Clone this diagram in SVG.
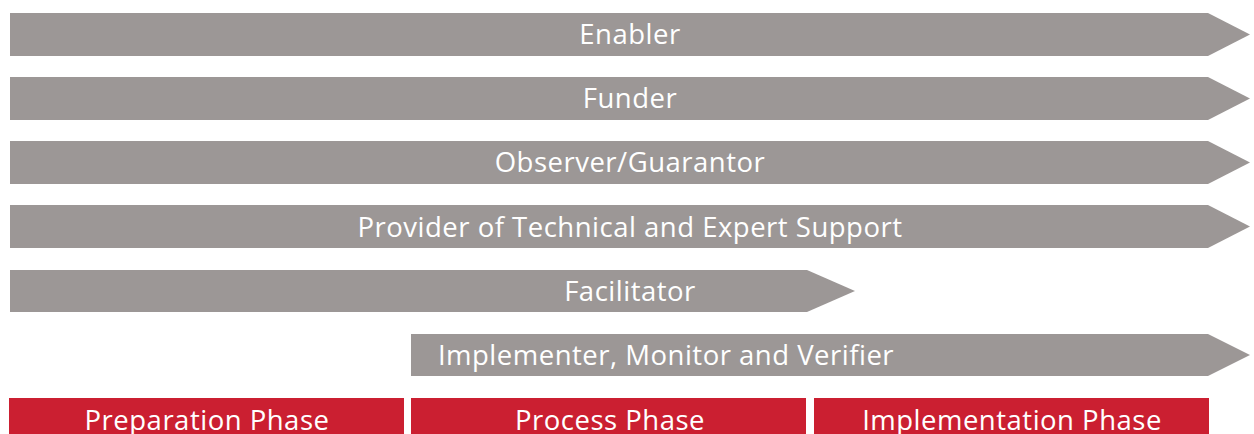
<svg xmlns="http://www.w3.org/2000/svg" width="1254" height="434" viewBox="0 0 1254 434">
<style>
.arr{fill:#9c9796}
.bar{fill:#cb1f31}
.t{font-family:"Open Sans","Liberation Sans",sans-serif;font-size:27.5px;fill:#ffffff;text-anchor:middle;letter-spacing:0.5px}
</style>
<rect width="1254" height="434" fill="#ffffff"/>
<g id="enabler"><polygon class="arr" points="10,13 1208,13 1250,34.5 1208,56 10,56"/><text class="t" x="630" y="44">Enabler</text></g>
<g id="funder"><polygon class="arr" points="10,77 1208,77 1250,98.5 1208,120 10,120"/><text class="t" x="630" y="108">Funder</text></g>
<g id="observer"><polygon class="arr" points="10,141 1208,141 1250,162.5 1208,184 10,184"/><text class="t" x="630" y="172">Observer/Guarantor</text></g>
<g id="provider"><polygon class="arr" points="10,205 1208,205 1250,226.5 1208,248 10,248"/><text class="t" x="630" y="237">Provider of Technical and Expert Support</text></g>
<g id="facilitator"><polygon class="arr" points="10,270 807,270 855,291 807,312 10,312"/><text class="t" x="630" y="301">Facilitator</text></g>
<g id="implementer"><polygon class="arr" points="411,334 1208,334 1250,355 1208,376 411,376"/><text class="t" x="666" y="365">Implementer, Monitor and Verifier</text></g>
<g id="preparation"><rect class="bar" x="9" y="398" width="395" height="40"/><text class="t" x="207" y="430">Preparation Phase</text></g>
<g id="process"><rect class="bar" x="411" y="398" width="395" height="40"/><text class="t" x="610" y="430">Process Phase</text></g>
<g id="implementation"><rect class="bar" x="814" y="398" width="395" height="40"/><text class="t" x="1012" y="430">Implementation Phase</text></g>
<g id="connectors"></g>
</svg>
